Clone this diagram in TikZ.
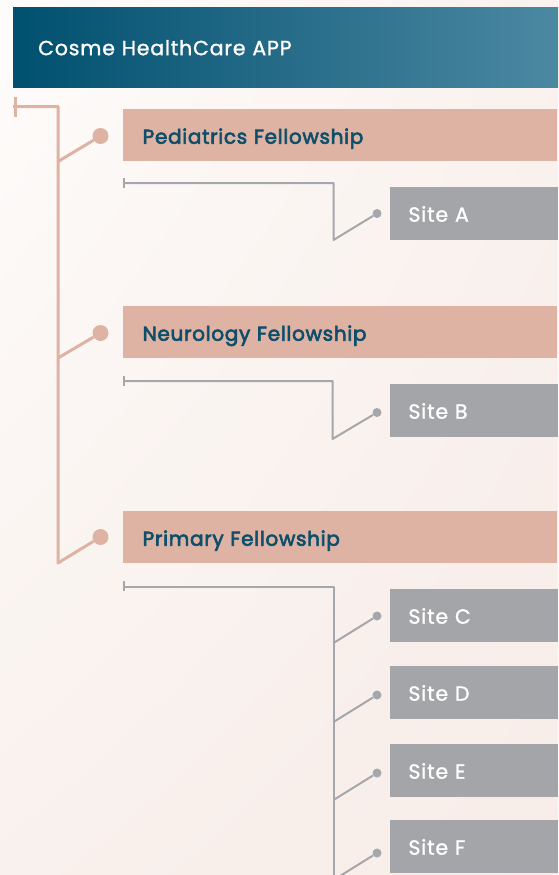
\documentclass[tikz,border=0pt]{standalone}
\usepackage{fontspec}
\setmainfont{Poppins}
\newfontfamily\mediumfont{Poppins}[FakeBold=1.3, LetterSpace=4]
\newfontfamily\semiboldfont{Poppins}[FakeBold=3, LetterSpace=3.5]
\usepackage{tikz}
\usetikzlibrary{positioning}
\usetikzlibrary{shadings}
\definecolor{appdark}{HTML}{00506F}
\definecolor{applight}{HTML}{4C88A2}
\definecolor{fellowpink}{HTML}{DEB3A3}
\definecolor{sitegrey}{HTML}{A4A5A9}
\definecolor{linegrey}{HTML}{A6A7AB}
\definecolor{deepteal}{HTML}{0D4E6B}
\definecolor{bgul}{HTML}{FEFCFB}
\definecolor{bgur}{HTML}{F9F2EF}
\definecolor{bgll}{HTML}{F9F1ED}
\definecolor{bglr}{HTML}{F7ECE8}
\tikzset{appbox/.style = {anchor=north west, minimum height=80pt, text width=495pt,
                          inner xsep=25pt, inner ysep=0pt, align=left,
                          left color=appdark, right color=applight, text=white,
                          font=\fontsize{20.5}{24}\mediumfont, text height=16pt, text depth=0pt},
         fellowbox/.style = {anchor=north west, minimum height=52pt, text width=395pt,
                             inner xsep=19.5pt, inner ysep=0pt, align=left, fill=fellowpink,
                             text=deepteal, font=\fontsize{20}{24}\semiboldfont,
                             text height=17pt, text depth=0pt},
         sitebox/.style = {anchor=north west, minimum height=53pt, text width=131.5pt,
                           inner xsep=18.25pt, inner ysep=0pt, align=left, fill=sitegrey,
                           text=white, font=\fontsize{20.5}{24}\mediumfont,
                           text height=16pt, text depth=0pt},
         pinkline/.style = {draw=fellowpink, line width=3pt, line join=round},
         greyline/.style = {draw=linegrey, line width=2pt, line join=round},
         pinkdot/.style = {circle, fill=fellowpink, minimum size=16pt, inner sep=0pt},
         greydot/.style = {circle, fill=linegrey, minimum size=9pt, inner sep=0pt}}

\begin{document}
\begin{tikzpicture}[x=1pt, y=-1pt]
      \clip (0, 0) rectangle (558, 875);
      \shade [upper left=bgul, upper right=bgur, lower left=bgll, lower right=bglr]
             (0, 0) rectangle (558, 875);

      \node [appbox] (app) at (13, 7) {Cosme HealthCare APP};

      % fellowships
      \node [fellowbox] (ped) at (123, 109) {Pediatrics Fellowship};
      \node [fellowbox] (neuro) at (123, 306) {Neurology Fellowship};
      \node [fellowbox] (prim) at (123, 511) {Primary Fellowship};

      \node [pinkdot] (peddot) at (100.5, 136) {};
      \node [pinkdot] (neurodot) at (100.5, 333) {};
      \node [pinkdot] (primdot) at (100.5, 537) {};

      \coordinate (roottop) at (15, 97);
      \coordinate (rootbot) at (15, 117);
      \coordinate (rootend) at (13, 106.5);
      \coordinate (rootknee) at (58, 106.5);
      \coordinate (rootfoot) at (58, 563);
      \coordinate (pedfork) at (58, 161.5);
      \coordinate (neurofork) at (58, 358);

      \draw [pinkline] (roottop) -- (rootbot);
      \draw [pinkline] (rootend) -- (rootknee) -- (rootfoot) -- (primdot);
      \draw [pinkline] (pedfork) -- (peddot);
      \draw [pinkline] (neurofork) -- (neurodot);

      % sites
      \node [sitebox] (siteA) at (390, 187) {Site A};
      \node [sitebox] (siteB) at (390, 384) {Site B};
      \node [sitebox] (siteC) at (390, 589) {Site C};
      \node [sitebox] (siteD) at (390, 666) {Site D};
      \node [sitebox] (siteE) at (390, 744) {Site E};
      \node [sitebox] (siteF) at (390, 820) {Site F};

      \node [greydot] (dotA) at (377, 213.5) {};
      \node [greydot] (dotB) at (377, 412.5) {};
      \node [greydot] (dotC) at (377, 616) {};
      \node [greydot] (dotD) at (377, 695) {};
      \node [greydot] (dotE) at (377, 773) {};
      \node [greydot] (dotF) at (377, 853) {};

      \coordinate (tickAtop) at (124, 178);
      \coordinate (tickAbot) at (124, 188);
      \coordinate (tickA) at (124, 183);
      \coordinate (kneeA) at (333.5, 183);
      \coordinate (footA) at (333.5, 240);
      \draw [greyline] (tickAtop) -- (tickAbot);
      \draw [greyline] (tickA) -- (kneeA) -- (footA) -- (dotA);

      \coordinate (tickBtop) at (124, 376);
      \coordinate (tickBbot) at (124, 386);
      \coordinate (tickB) at (124, 381);
      \coordinate (kneeB) at (332.5, 381);
      \coordinate (footB) at (332.5, 439);
      \draw [greyline] (tickBtop) -- (tickBbot);
      \draw [greyline] (tickB) -- (kneeB) -- (footB) -- (dotB);

      \coordinate (tickCtop) at (124, 581);
      \coordinate (tickCbot) at (124, 591);
      \coordinate (tickC) at (124, 586.5);
      \coordinate (kneeC) at (333.5, 586.5);
      \coordinate (footC) at (333.5, 890);
      \coordinate (forkC) at (333.5, 643);
      \coordinate (forkD) at (333.5, 722);
      \coordinate (forkE) at (333.5, 800);
      \coordinate (forkF) at (333.5, 880);
      \draw [greyline] (tickCtop) -- (tickCbot);
      \draw [greyline] (tickC) -- (kneeC) -- (footC);
      \draw [greyline] (forkC) -- (dotC);
      \draw [greyline] (forkD) -- (dotD);
      \draw [greyline] (forkE) -- (dotE);
      \draw [greyline] (forkF) -- (dotF);
    \end{tikzpicture}
\end{document}
